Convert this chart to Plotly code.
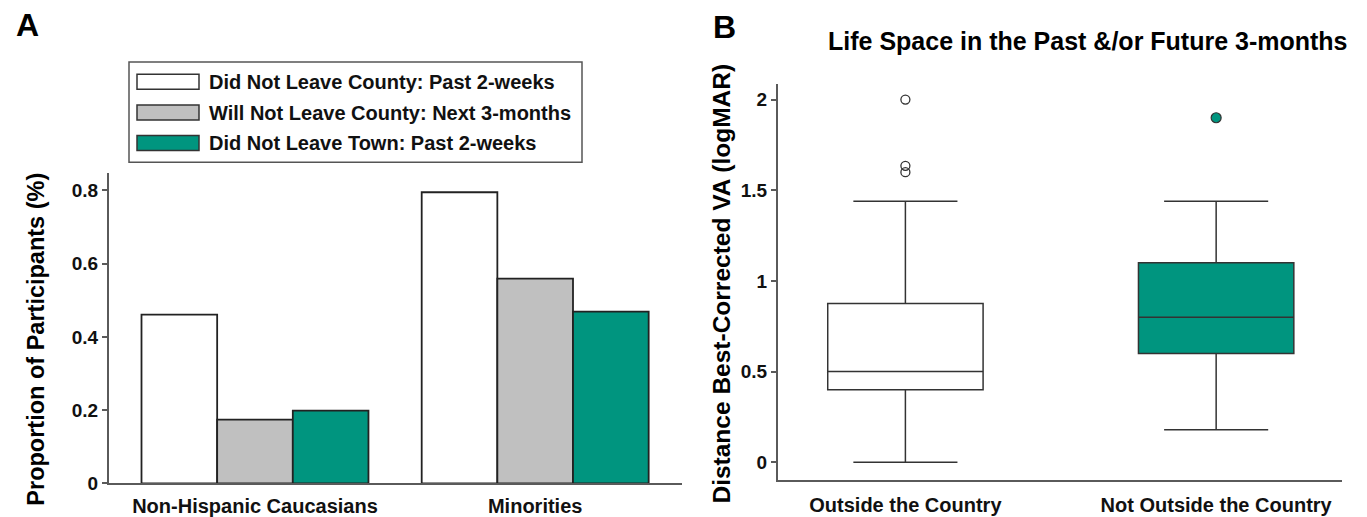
import plotly.graph_objects as go

W, H = 1367, 517          # reference picture size (layout is designed in these pixels)
FIG_H = 529               # rendered figure height (compensates the vertical squeeze of the photo)

# ---------------- data ----------------
groups = ["Non-Hispanic Caucasians", "Minorities"]
series_names = [
    "Did Not Leave County: Past 2-weeks",
    "Will Not Leave County: Next 3-months",
    "Did Not Leave Town: Past 2-weeks",
]
series_colors = ["#FFFFFF", "#C0C0C0", "#00957F"]
did_not_leave_county = [0.461, 0.795]
will_not_leave_county = [0.174, 0.559]
did_not_leave_town = [0.199, 0.469]
bar_values = [did_not_leave_county, will_not_leave_county, did_not_leave_town]

box_categories = ["Outside the Country", "Not Outside the Country"]
box_colors = ["#FFFFFF", "#00957F"]
box_q1 = [0.40, 0.60]
box_median = [0.50, 0.80]
box_q3 = [0.875, 1.10]
box_lower = [0.0, 0.18]
box_upper = [1.44, 1.44]
outliers_outside = [2.0, 1.635, 1.60]
outliers_not_outside = [1.90]

yticks_a = [0, 0.2, 0.4, 0.6, 0.8]
yticklabels_a = ["0", "0.2", "0.4", "0.6", "0.8"]
yticks_b = [0, 0.5, 1, 1.5, 2]
yticklabels_b = ["0", "0.5", "1", "1.5", "2"]

FONT = "Liberation Sans, Arial, sans-serif"
AXIS_COLOR = "#5a5a5a"
EDGE = "#222222"


def px(x):
    return x / W


def py(y):
    return 1 - y / H


fig = go.Figure()

# ---------------- panel A bars ----------------
for name, vals, col in zip(series_names, bar_values, series_colors):
    fig.add_trace(go.Bar(
        x=groups, y=vals, name=name, xaxis="x", yaxis="y",
        marker=dict(color=col, line=dict(color=EDGE, width=1.8)),
        showlegend=False,
    ))

# ---------------- panel B boxes ----------------
for i, cat in enumerate(box_categories):
    fig.add_trace(go.Box(
        x=[cat], q1=[box_q1[i]], median=[box_median[i]], q3=[box_q3[i]],
        lowerfence=[box_lower[i]], upperfence=[box_upper[i]],
        xaxis="x2", yaxis="y2", boxpoints=False, width=0.5, whiskerwidth=0.67,
        fillcolor=box_colors[i], line=dict(color="#333333", width=1.5),
        showlegend=False,
    ))

fig.add_trace(go.Scatter(
    x=[box_categories[0]] * len(outliers_outside), y=outliers_outside,
    mode="markers", xaxis="x2", yaxis="y2", showlegend=False,
    marker=dict(symbol="circle-open", size=9, color="#333333", line=dict(width=1.3)),
))
fig.add_trace(go.Scatter(
    x=[box_categories[1]] * len(outliers_not_outside), y=outliers_not_outside,
    mode="markers", xaxis="x2", yaxis="y2", showlegend=False,
    marker=dict(symbol="circle", size=10, color=box_colors[1],
                line=dict(width=1.2, color="#333333")),
))

# ---------------- custom legend ----------------
shapes = [dict(type="rect", xref="paper", yref="paper",
               x0=px(129), x1=px(582), y0=py(162), y1=py(62),
               line=dict(color="#555555", width=1.5), fillcolor="white")]
annotations = []
row_y = [81.7, 112.3, 142.7]
for name, col, ry in zip(series_names, series_colors, row_y):
    shapes.append(dict(type="rect", xref="paper", yref="paper",
                       x0=px(137), x1=px(199), y0=py(ry + 7.5), y1=py(ry - 7.5),
                       line=dict(color="#333333", width=1.5), fillcolor=col))
    annotations.append(dict(text="<b>%s</b>" % name, xref="paper", yref="paper",
                            x=px(207), y=py(ry), xanchor="left", yanchor="middle",
                            showarrow=False,
                            font=dict(family=FONT, size=20, color="#111111")))

# panel letters, titles
annotations += [
    dict(text="<b>A</b>", xref="paper", yref="paper", x=px(27), y=py(25),
         xanchor="center", yanchor="middle", showarrow=False,
         font=dict(family=FONT, size=32, color="black")),
    dict(text="<b>B</b>", xref="paper", yref="paper", x=px(724), y=py(27),
         xanchor="center", yanchor="middle", showarrow=False,
         font=dict(family=FONT, size=32, color="black")),
    dict(text="<b>Life Space in the Past &/or Future 3-months</b>", xref="paper", yref="paper",
         x=px(1088), y=py(41), xanchor="center", yanchor="middle", showarrow=False,
         font=dict(family=FONT, size=25, color="black")),
    dict(text="<b>Proportion of Participants (%)</b>", xref="paper", yref="paper",
         x=px(36), y=py(339), xanchor="center", yanchor="middle", textangle=-90,
         showarrow=False, font=dict(family=FONT, size=23.5, color="black")),
    dict(text="<b>Distance Best-Corrected VA (logMAR)</b>", xref="paper", yref="paper",
         x=px(722), y=py(283), xanchor="center", yanchor="middle", textangle=-90,
         showarrow=False, font=dict(family=FONT, size=24.5, color="black")),
]

tickfont = dict(family=FONT, size=19, color="#111111")
xtickfont = dict(family=FONT, size=20, color="#111111")

fig.update_layout(
    width=W, height=FIG_H,
    margin=dict(l=0, r=0, t=0, b=0),
    paper_bgcolor="white", plot_bgcolor="white",
    barmode="group", bargap=0.19, bargroupgap=0,
    font=dict(family=FONT),
    shapes=shapes, annotations=annotations,
    xaxis=dict(domain=[px(109), px(682)], range=[-0.521, 1.524],
               showline=True, linecolor=AXIS_COLOR, linewidth=2,
               ticks="", showgrid=False, zeroline=False,
               tickfont=xtickfont, tickprefix="<b>", ticksuffix="</b>",
               ticklabelstandoff=4, anchor="y"),
    yaxis=dict(domain=[py(482.5), py(172.5)], range=[0, 0.848],
               tickvals=yticks_a, ticktext=["<b>%s</b>" % t for t in yticklabels_a],
               showline=True, linecolor=AXIS_COLOR, linewidth=2,
               ticks="outside", ticklen=5, tickcolor=AXIS_COLOR, tickwidth=1.5,
               showgrid=False, zeroline=False, tickfont=tickfont, anchor="x"),
    xaxis2=dict(domain=[px(778), px(1342)], range=[-0.41, 1.405],
                showline=True, linecolor=AXIS_COLOR, linewidth=2,
                ticks="", showgrid=False, zeroline=False,
                tickfont=xtickfont, tickprefix="<b>", ticksuffix="</b>",
                ticklabelstandoff=6, anchor="y2"),
    yaxis2=dict(domain=[py(479.5), py(83.5)], range=[-0.1, 2.088],
                tickvals=yticks_b, ticktext=["<b>%s</b>" % t for t in yticklabels_b],
                showline=True, linecolor=AXIS_COLOR, linewidth=2,
                ticks="outside", ticklen=5, tickcolor=AXIS_COLOR, tickwidth=1.5,
                showgrid=False, zeroline=False, tickfont=tickfont, anchor="x2"),
)

page_fix = (
    "var h=document.documentElement,b=document.body;"
    "h.style.margin='0';h.style.padding='0';h.style.overflow='hidden';"
    "b.style.margin='0';b.style.padding='0';b.style.overflow='hidden';"
)

fig.write_html("out.html", config={"displayModeBar": False}, post_script=page_fix)
